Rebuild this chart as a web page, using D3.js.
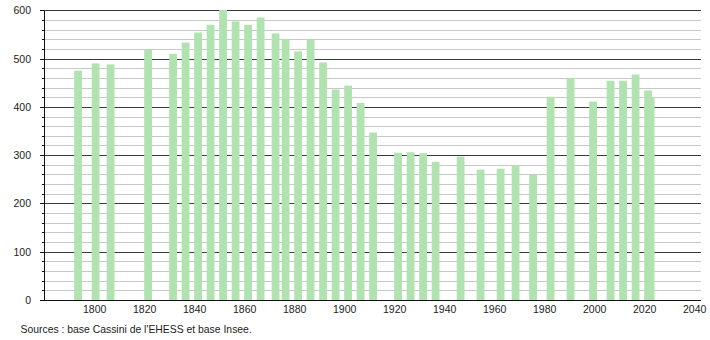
<!DOCTYPE html>
<html>
<head>
<meta charset="utf-8">
<script src="https://cdn.jsdelivr.net/npm/d3@7"></script>
<style>
  body { margin: 0; background: #fff; }
  svg { font-family: "Liberation Sans", Arial, sans-serif; }
</style>
</head>
<body>
<div id="chart"></div>
<script>
// census years and population
var years = [1793, 1800, 1806, 1821, 1831, 1836, 1841, 1846, 1851, 1856, 1861, 1866,
  1872, 1876, 1881, 1886, 1891, 1896, 1901, 1906, 1911, 1921, 1926, 1931, 1936,
  1946, 1954, 1962, 1968, 1975, 1982, 1990, 1999, 2006, 2011, 2016, 2022, 2021];
var population = [475, 490, 488, 519, 510, 533, 554, 570, 601, 577, 570, 585,
  552, 541, 515, 540, 492, 436, 444, 408, 347, 305, 306, 304, 286,
  297, 270, 272, 279, 259, 421, 460, 411, 454, 454, 467, 420, 434];
var xTicks = [1800, 1820, 1840, 1860, 1880, 1900, 1920, 1940, 1960, 1980, 2000, 2020, 2040];
var yTicks = [0, 100, 200, 300, 400, 500, 600];
var source = "Sources : base Cassini de l'EHESS et base Insee.";

var data = years.map((y, i) => ({year: y, pop: population[i]}));

var width = 710, height = 340;
var svg = d3.select("#chart").append("svg")
  .attr("width", width)
  .attr("height", height);

var x = d3.scaleLinear().domain([1780, 2040]).range([44.7, 694.7]);
var y = d3.scaleLinear().domain([0, 600]).range([300, 10.3]);
var left = 44, right = x(2042.5);
var crisp = v => Math.round(v) + 0.5;

// minor grid every 20
var minor = d3.range(0, 601, 20).filter(v => v % 100 !== 0);
svg.append("g").selectAll("line").data(minor).join("line")
  .attr("x1", left).attr("x2", right)
  .attr("y1", d => crisp(y(d))).attr("y2", d => crisp(y(d)))
  .attr("stroke", "#c8c8c8").attr("stroke-width", 1);

// major grid
svg.append("g").selectAll("line").data(yTicks.filter(v => v > 0)).join("line")
  .attr("x1", left).attr("x2", right)
  .attr("y1", d => crisp(y(d))).attr("y2", d => crisp(y(d)))
  .attr("stroke", "#3a3a3a").attr("stroke-width", 1);

// bars
svg.append("g").selectAll("rect").data(data).join("rect")
  .attr("x", d => x(d.year) - 3)
  .attr("width", 7.8)
  .attr("y", d => y(d.pop))
  .attr("height", d => y(0) - y(d.pop))
  .attr("fill", "#b1e3b1");

// y axis line and ticks
svg.append("line")
  .attr("x1", left + 0.5).attr("x2", left + 0.5)
  .attr("y1", crisp(y(600))).attr("y2", crisp(y(0)))
  .attr("stroke", "#111");
svg.append("g").selectAll("line").data(minor).join("line")
  .attr("x1", left - 2).attr("x2", left)
  .attr("y1", d => crisp(y(d))).attr("y2", d => crisp(y(d)))
  .attr("stroke", "#111");
svg.append("g").selectAll("line").data(yTicks).join("line")
  .attr("x1", left - 4).attr("x2", left)
  .attr("y1", d => crisp(y(d))).attr("y2", d => crisp(y(d)))
  .attr("stroke", "#111");
svg.append("g").selectAll("text").data(yTicks).join("text")
  .attr("x", 31)
  .attr("y", d => y(d) + 4)
  .attr("text-anchor", "end")
  .attr("font-size", 10.5)
  .attr("fill", "#222")
  .text(d => d);

// x axis baseline
svg.append("line")
  .attr("x1", left).attr("x2", right)
  .attr("y1", crisp(y(0))).attr("y2", crisp(y(0)))
  .attr("stroke", "#111");
svg.append("g").selectAll("text").data(xTicks).join("text")
  .attr("x", d => x(d))
  .attr("y", 313)
  .attr("text-anchor", "middle")
  .attr("font-size", 10.5)
  .attr("fill", "#222")
  .text(d => d);

svg.append("text")
  .attr("x", 20.5).attr("y", 333)
  .attr("font-size", 10.4)
  .attr("fill", "#222")
  .text(source);
</script>
</body>
</html>
